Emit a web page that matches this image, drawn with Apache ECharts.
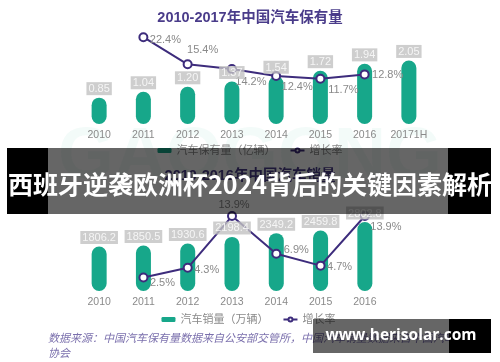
<!DOCTYPE html>
<html>
<head>
<meta charset="utf-8">
<script src="https://cdn.jsdelivr.net/npm/echarts@6/dist/echarts.min.js"></script>
<style>
html,body{margin:0;padding:0;background:#fff;}
#chart{width:500px;height:362px;}
</style>
</head>
<body>
<div id="chart"></div>
<script>
// ---- data ----
const topTitle = '2010-2017年中国汽车保有量';
const topCategories = ['2010', '2011', '2012', '2013', '2014', '2015', '2016', '20171H'];
const ownership = [0.85, 1.04, 1.20, 1.37, 1.54, 1.72, 1.94, 2.05];
const ownershipGrowth = [null, 22.4, 15.4, 14.2, 12.4, 11.7, 12.8, null];
const topBarName = '汽车保有量（亿辆）';
const topLineName = '增长率';

const bottomTitle = '2010-2016年中国汽车销量';
const bottomCategories = ['2010', '2011', '2012', '2013', '2014', '2015', '2016'];
const sales = [1806.2, 1850.5, 1930.6, 2198.4, 2349.2, 2459.8, 2802.8];
const salesGrowth = [null, 2.5, 4.3, 13.9, 6.9, 4.7, 13.9];
const bottomBarName = '汽车销量（万辆）';
const bottomLineName = '增长率 ';

const bannerText = '西班牙逆袭欧洲杯2024背后的关键因素解析';
const siteText = 'www.herisolar.com';
const sourceText = '数据来源：中国汽车保有量数据来自公安部交管所，中国汽车销量数据来自中国汽车工业\n协会';
const watermarkText = 'GAOGONG';

// ---- label placement (style only) ----
const topGrowthOffsets = [[0,0],[22,3],[15,-14],[19,13],[21,11],[23,11],[23,1],[0,0]];
const bottomGrowthOffsets = [[0,0],[19,5],[19,2],[2,-11],[20,-4],[19,1],[21,11]];

const GREEN = '#17a78a';
const PURPLE = '#3d2c7c';
const GRAY = '#8a8a8a';
const FONT = '"Liberation Sans", "Noto Sans CJK SC", sans-serif';

function growthData(vals, offs) {
  return vals.map((v, i) => v == null ? '-' : { value: v, label: { offset: offs[i] } });
}

const valueLabel = (digits) => ({
  show: true,
  position: 'top',
  distance: 2,
  formatter: p => Number(p.value).toFixed(digits),
  color: '#fff',
  backgroundColor: '#c2c2c2',
  fontSize: 11,
  lineHeight: 12,
  padding: [1, 2, 0, 2]
});

const growthLabel = {
  show: true,
  position: 'inside',
  formatter: p => p.value + '%',
  color: GRAY,
  fontSize: 11
};

const chart = echarts.init(document.getElementById('chart'), null, { renderer: 'canvas' });
chart.setOption({
  animation: false,
  textStyle: { fontFamily: FONT },
  title: [
    { text: topTitle, left: 'center', top: 6,
      textStyle: { color: '#4a3c8a', fontSize: 14.5, fontWeight: 'bold', fontFamily: FONT } },
    { text: bottomTitle, left: 'center', top: 164,
      textStyle: { color: '#4a3c8a', fontSize: 14.5, fontWeight: 'bold', fontFamily: FONT } }
  ],
  legend: [
    { top: 140, left: 'center', itemWidth: 14, itemHeight: 5, itemGap: 14,
      textStyle: { color: GRAY, fontSize: 11 },
      data: [{ name: topBarName, icon: 'roundRect' }, topLineName] },
    { top: 309, left: 'center', itemWidth: 14, itemHeight: 5, itemGap: 14,
      textStyle: { color: GRAY, fontSize: 11 },
      data: [{ name: bottomBarName, icon: 'roundRect' }, bottomLineName] }
  ],
  grid: [
    { left: 77, top: 31, width: 354, height: 93 },
    { left: 77, top: 195, width: 310, height: 96 }
  ],
  xAxis: [
    { type: 'category', gridIndex: 0, data: topCategories,
      axisLine: { show: false }, axisTick: { show: false },
      axisLabel: { color: GRAY, fontSize: 10.5, margin: 6, interval: 0 } },
    { type: 'category', gridIndex: 1, data: bottomCategories,
      axisLine: { show: false }, axisTick: { show: false },
      axisLabel: { color: GRAY, fontSize: 10.5, margin: 6, interval: 0 } }
  ],
  yAxis: [
    { type: 'value', gridIndex: 0, min: 0, max: 3, show: false },
    { type: 'value', gridIndex: 0, min: 0, max: 24, show: false },
    { type: 'value', gridIndex: 1, min: 0, max: 3900, show: false },
    { type: 'value', gridIndex: 1, min: 0, max: 17.8, show: false }
  ],
  series: [
    { name: topBarName, type: 'bar', xAxisIndex: 0, yAxisIndex: 0, data: ownership,
      barWidth: 15, z: 2, itemStyle: { color: GREEN, borderRadius: 7.5 } },
    { name: topLineName, type: 'line', xAxisIndex: 0, yAxisIndex: 1,
      data: growthData(ownershipGrowth, topGrowthOffsets),
      z: 3, symbol: 'emptyCircle', symbolSize: 8,
      itemStyle: { color: PURPLE, borderWidth: 2 },
      lineStyle: { color: PURPLE, width: 2 },
      label: growthLabel },
    { type: 'scatter', xAxisIndex: 0, yAxisIndex: 0, data: ownership, z: 4,
      symbolSize: 1, itemStyle: { color: 'rgba(0,0,0,0)' }, silent: true,
      label: valueLabel(2) },

    { name: bottomBarName, type: 'bar', xAxisIndex: 1, yAxisIndex: 2, data: sales,
      barWidth: 15, z: 2, itemStyle: { color: GREEN, borderRadius: 7.5 } },
    { name: bottomLineName, type: 'line', xAxisIndex: 1, yAxisIndex: 3,
      data: growthData(salesGrowth, bottomGrowthOffsets),
      z: 3, symbol: 'emptyCircle', symbolSize: 8,
      itemStyle: { color: PURPLE, borderWidth: 2 },
      lineStyle: { color: PURPLE, width: 2 },
      label: growthLabel },
    { type: 'scatter', xAxisIndex: 1, yAxisIndex: 2, data: sales, z: 4,
      symbolSize: 1, itemStyle: { color: 'rgba(0,0,0,0)' }, silent: true,
      label: valueLabel(1) }
  ],
  graphic: [
    { type: 'text', z: 0, silent: true, x: 250, y: 158,
      style: { text: watermarkText, fill: 'rgba(23,167,138,0.05)', font: 'bold 72px "Liberation Sans"',
               textAlign: 'center', textVerticalAlign: 'middle' } },
    { type: 'text', z: 1, silent: true, x: 48, y: 330,
      style: { text: sourceText, fill: '#7b70ad', font: 'italic 11px "Noto Sans CJK SC"', lineHeight: 15 } },
    // banner
    { type: 'rect', z: 100, silent: true, shape: { x: 7, y: 148, width: 41, height: 66 }, style: { fill: '#000' } },
    { type: 'rect', z: 100, silent: true, shape: { x: 48, y: 148, width: 400, height: 66 }, style: { fill: 'rgba(0,0,0,0.6)' } },
    { type: 'rect', z: 100, silent: true, shape: { x: 448, y: 148, width: 43, height: 66 }, style: { fill: '#000' } },
    { type: 'text', z: 101, silent: true, x: 250, y: 184,
      style: { text: bannerText, fill: '#fff', font: 'bold 25px "Noto Sans CJK SC"',
               textAlign: 'center', textVerticalAlign: 'middle' } },
    // site box
    { type: 'rect', z: 100, silent: true, shape: { x: 313, y: 319, width: 136, height: 34 }, style: { fill: 'rgba(0,0,0,0.6)' } },
    { type: 'rect', z: 100, silent: true, shape: { x: 449, y: 319, width: 42, height: 34 }, style: { fill: '#000' } },
    { type: 'text', z: 101, silent: true, x: 401, y: 336,
      style: { text: siteText, fill: '#fff', font: 'bold 15.5px "Open Sans"',
               textAlign: 'center', textVerticalAlign: 'middle' } }
  ]
});
</script>
</body>
</html>
